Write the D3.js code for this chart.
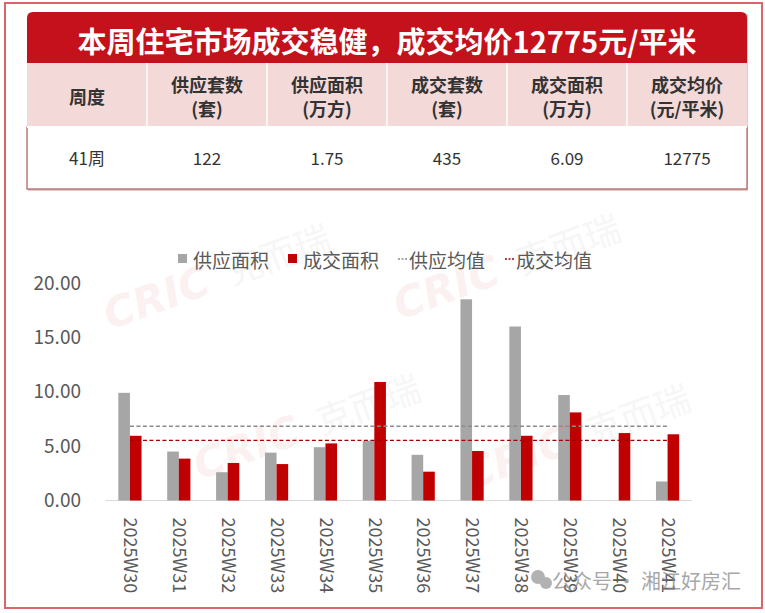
<!DOCTYPE html>
<html>
<head>
<meta charset="utf-8">
<script src="https://cdn.jsdelivr.net/npm/d3@7"></script>
<style>
  html, body { margin: 0; padding: 0; background: #fff; }
  svg { display: block; font-family: "Noto Sans CJK SC", "Noto Sans", sans-serif; }
</style>
</head>
<body>
<div class="chart"></div>
<script>
var title = "本周住宅市场成交稳健，成交均价12775元/平米";
var tableHead = [["周度"], ["供应套数", "(套)"], ["供应面积", "(万方)"], ["成交套数", "(套)"], ["成交面积", "(万方)"], ["成交均价", "(元/平米)"]];
var tableRow = ["41周", "122", "1.75", "435", "6.09", "12775"];

var weeks = ["2025W30", "2025W31", "2025W32", "2025W33", "2025W34", "2025W35",
             "2025W36", "2025W37", "2025W38", "2025W39", "2025W40", "2025W41"];
var supplyArea = [9.9, 4.5, 2.6, 4.4, 4.9, 5.5, 4.2, 18.5, 16.0, 9.7, 0, 1.75];
var dealArea = [5.95, 3.85, 3.45, 3.35, 5.25, 10.9, 2.65, 4.55, 5.95, 8.1, 6.2, 6.09];
var yTicks = [0, 5, 10, 15, 20];
var seriesNames = ["供应面积", "成交面积", "供应均值", "成交均值"];

var W = 765, H = 613;
var red = "#c00000", gray = "#a6a6a6", textGray = "#595959";

var svg = d3.select(".chart").append("svg")
            .attr("width", W)
            .attr("height", H);

// outer frame
svg.append("rect")
   .attr("x", 5).attr("y", 3)
   .attr("width", 757).attr("height", 605)
   .attr("fill", "#fff")
   .attr("stroke", "#d9676a")
   .attr("stroke-width", 2);

// faint watermarks
var marks = [[110, 330], [400, 320], [200, 480], [470, 490]];
marks.forEach(function(m) {
  var g = svg.append("g")
             .attr("transform", "translate(" + m[0] + "," + m[1] + ") rotate(-20)")
             .attr("opacity", 0.05);
  g.append("text").text("CRIC")
   .attr("font-size", 42).attr("font-weight", 900).attr("font-style", "italic")
   .attr("fill", red).attr("font-family", "DejaVu Sans");
  g.append("text").text("克而瑞")
   .attr("x", 130).attr("font-size", 36)
   .attr("fill", "#666");
});

/**
 * Table on top
 */
var tX = 27, tW = 720, colW = tW / tableHead.length;

svg.append("rect")
   .attr("x", tX + 1).attr("y", 14)
   .attr("width", tW).attr("height", 177)
   .attr("fill", "#e6c9c9");

svg.append("path")
   .attr("d", "M" + tX + ",63 V18 Q" + tX + ",12 " + (tX + 6) + ",12 H" + (tX + tW - 6) +
              " Q" + (tX + tW) + ",12 " + (tX + tW) + ",18 V63 Z")
   .attr("fill", "#c4111b");

svg.append("text")
   .attr("x", tX + tW / 2).attr("y", 40)
   .attr("text-anchor", "middle")
   .attr("dominant-baseline", "central")
   .attr("fill", "#fff")
   .attr("font-size", 29)
   .attr("font-weight", 700)
   .text(title);

svg.append("rect")
   .attr("x", tX).attr("y", 63)
   .attr("width", tW).attr("height", 64)
   .attr("fill", "#f4d9d9");

svg.append("rect")
   .attr("x", tX).attr("y", 127)
   .attr("width", tW).attr("height", 62)
   .attr("fill", "#fff")
   .attr("stroke", "#a85a5a")
   .attr("stroke-width", 1.2);

svg.append("rect")
   .attr("x", tX).attr("y", 126)
   .attr("width", tW).attr("height", 2)
   .attr("fill", "#fff");

svg.selectAll(".sep")
   .data(d3.range(1, tableHead.length))
   .enter().append("line")
   .attr("x1", function(i) { return tX + i * colW; })
   .attr("x2", function(i) { return tX + i * colW; })
   .attr("y1", 63).attr("y2", 127)
   .attr("stroke", "#fff")
   .attr("stroke-width", 1.5);

var head = svg.selectAll(".head")
              .data(tableHead)
              .enter().append("text")
              .attr("text-anchor", "middle")
              .attr("fill", "#333")
              .attr("font-size", 18)
              .attr("font-weight", 700);

head.each(function(d, i) {
  var cx = tX + (i + 0.5) * colW;
  var el = d3.select(this);
  if (d.length === 1) {
    el.append("tspan").attr("x", cx).attr("y", 104).text(d[0]);
  } else {
    el.append("tspan").attr("x", cx).attr("y", 92).text(d[0]);
    el.append("tspan").attr("x", cx).attr("y", 116).text(d[1]);
  }
});

svg.selectAll(".cell")
   .data(tableRow)
   .enter().append("text")
   .attr("x", function(d, i) { return tX + (i + 0.5) * colW; })
   .attr("y", 165)
   .attr("text-anchor", "middle")
   .attr("fill", "#333")
   .attr("font-size", 17)
   .text(function(d) { return d; });

/**
 * Scales
 */
var xScale = d3.scaleBand()
               .domain(weeks)
               .range([105.5, 692]);

var barW = 11.6;
var xSub = d3.scaleBand()
             .domain(["supply", "deal"])
             .range([xScale.bandwidth() / 2 - barW, xScale.bandwidth() / 2 + barW]);

var yScale = d3.scaleLinear()
               .domain([0, 20])
               .range([500.5, 283]);

/**
 * Axes
 */
var yAxis = d3.axisLeft(yScale)
              .tickValues(yTicks)
              .tickFormat(d3.format(".2f"))
              .tickSize(0)
              .tickPadding(0);

var yG = svg.append("g")
            .attr("transform", "translate(81,0)")
            .call(yAxis);
yG.select(".domain").remove();
yG.selectAll("text")
  .attr("font-size", 19)
  .attr("fill", textGray)
  .attr("font-family", "Noto Sans CJK SC");

svg.append("line")
   .attr("x1", xScale.range()[0]).attr("x2", xScale.range()[1])
   .attr("y1", yScale(0)).attr("y2", yScale(0))
   .attr("stroke", "#d9d9d9")
   .attr("stroke-width", 1);

var xAxis = d3.axisBottom(xScale).tickSize(0);
var xG = svg.append("g")
            .attr("transform", "translate(0," + yScale(0) + ")")
            .call(xAxis);
xG.select(".domain").remove();
xG.selectAll("text")
  .attr("font-size", 18)
  .attr("fill", textGray)
  .attr("font-family", "Noto Sans CJK SC")
  .attr("text-anchor", "start")
  .attr("transform", "rotate(90)")
  .attr("x", 17)
  .attr("y", 0)
  .attr("dy", "0.32em");

/**
 * Bars
 */
var groups = svg.selectAll(".grp")
                .data(weeks)
                .enter().append("g")
                .attr("transform", function(d) { return "translate(" + xScale(d) + ",0)"; });

groups.append("rect")
      .attr("x", xSub("supply"))
      .attr("width", xSub.bandwidth())
      .attr("y", function(d, i) { return yScale(supplyArea[i]); })
      .attr("height", function(d, i) { return yScale(0) - yScale(supplyArea[i]); })
      .attr("fill", gray);

groups.append("rect")
      .attr("x", xSub("deal"))
      .attr("width", xSub.bandwidth())
      .attr("y", function(d, i) { return yScale(dealArea[i]); })
      .attr("height", function(d, i) { return yScale(0) - yScale(dealArea[i]); })
      .attr("fill", red);

// average lines
var cx0 = xScale(weeks[0]) + xScale.bandwidth() / 2;
var cx1 = xScale(weeks[weeks.length - 1]) + xScale.bandwidth() / 2;
[[d3.mean(supplyArea), "#8c8c8c"], [d3.mean(dealArea), "#a00000"]].forEach(function(a) {
  svg.append("line")
     .attr("x1", cx0).attr("x2", cx1)
     .attr("y1", yScale(a[0])).attr("y2", yScale(a[0]))
     .attr("stroke", a[1])
     .attr("stroke-width", 1.3)
     .attr("stroke-dasharray", "4,2.5");
});

/**
 * Legend
 */
var legendItems = [
  { name: seriesNames[0], x: 178, type: "rect", color: gray },
  { name: seriesNames[1], x: 288, type: "rect", color: red },
  { name: seriesNames[2], x: 398, type: "line", color: "#8c8c8c" },
  { name: seriesNames[3], x: 505, type: "line", color: "#a00000" }
];

var lg = svg.selectAll(".lg")
            .data(legendItems)
            .enter().append("g")
            .attr("transform", function(d) { return "translate(" + d.x + ",259)"; });

lg.filter(function(d) { return d.type === "rect"; })
  .append("rect")
  .attr("x", 0).attr("y", -5)
  .attr("width", 9).attr("height", 9)
  .attr("fill", function(d) { return d.color; });

lg.filter(function(d) { return d.type === "line"; })
  .append("line")
  .attr("x1", 0).attr("x2", 10)
  .attr("y1", 0).attr("y2", 0)
  .attr("stroke", function(d) { return d.color; })
  .attr("stroke-width", 1.3)
  .attr("stroke-dasharray", "2,1.5");

lg.append("text")
  .attr("x", function(d) { return d.type === "rect" ? 15 : 11; })
  .attr("y", 0)
  .attr("dominant-baseline", "central")
  .attr("font-size", 19)
  .attr("fill", textGray)
  .text(function(d) { return d.name; });

// account watermark
var wm = svg.append("g").attr("opacity", 0.75);
wm.append("circle").attr("cx", 538).attr("cy", 577).attr("r", 7).attr("fill", "#999");
wm.append("circle").attr("cx", 546).attr("cy", 583).attr("r", 6).attr("fill", "#999");
wm.append("text")
  .attr("x", 552).attr("y", 580)
  .attr("dominant-baseline", "central")
  .attr("font-size", 20)
  .attr("fill", "#8a8a8a")
  .text("公众号 · 湘江好房汇");
</script>
</body>
</html>
